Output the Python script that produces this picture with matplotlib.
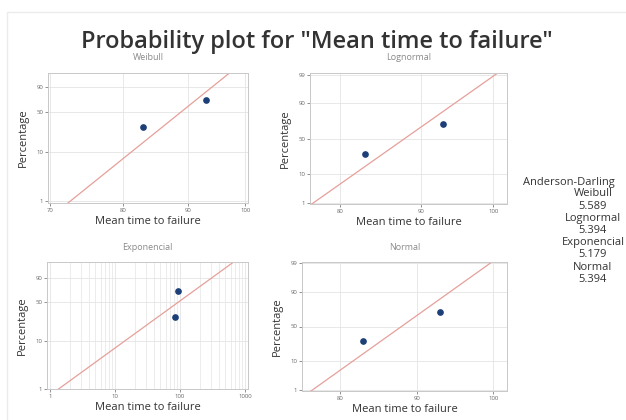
import numpy as np
import matplotlib
matplotlib.use("Agg")
import matplotlib.pyplot as plt
from matplotlib.ticker import FixedLocator, NullLocator, FixedFormatter, NullFormatter
from matplotlib.patches import Rectangle
from statistics import NormalDist

plt.rcParams['font.family'] = ['Open Sans', 'DejaVu Sans']

# ---------------- data ----------------
failure_times = [83.0, 93.0]
dist_names = ["Weibull", "Lognormal", "Exponencial", "Normal"]
ad_values = ["5.589", "5.394", "5.179", "5.394"]
title_text = 'Probability plot for "Mean time to failure"'
x_label = "Mean time to failure"
y_label = "Percentage"
weib_xticks = [70, 80, 90, 100]
logn_xticks = [80, 90, 100]
expo_xticks = [1, 10, 100, 1000]
norm_xticks = [80, 90, 100]
weib_yticks = [1, 10, 50, 90]
logn_yticks = [1, 10, 50, 90, 99]
expo_yticks = [1, 10, 50, 90]
norm_yticks = [1, 10, 50, 90, 99]

x = np.array(failure_times)
n = len(x)
ranks = np.arange(1, n + 1)
pct = 100 * (ranks - 0.3) / (n + 0.4)   # median ranks
xs = np.sort(x)

ND = NormalDist()
_inv = np.vectorize(lambda p: ND.inv_cdf(p), otypes=[float])
_cdf = np.vectorize(lambda z: ND.cdf(z), otypes=[float])


def norm_f(p):
    p = np.clip(np.asarray(p, float) / 100.0, 1e-9, 1 - 1e-9)
    return _inv(p)


def norm_i(z):
    return 100.0 * _cdf(np.asarray(z, float))


def weib_f(p):
    p = np.clip(np.asarray(p, float) / 100.0, 1e-9, 1 - 1e-9)
    return np.log(-np.log(1 - p))


def weib_i(y):
    return 100.0 * (1 - np.exp(-np.exp(np.asarray(y, float))))


# ---- fits ----
mu = x.mean()
sd = x.std()
lmu = np.log(x).mean()
lsd = np.log(x).std()
lx = np.log(x)
# exponential: least squares on the probability scale (unit slope)
theta = np.exp(np.mean(np.log(xs) - weib_f(pct)))


def g(k):
    w = x ** k
    return 1.0 / k + lx.mean() - np.sum(w * lx) / np.sum(w)


lo, hi = 0.5, 200.0
for _ in range(200):
    mid = 0.5 * (lo + hi)
    if g(mid) > 0:
        lo = mid
    else:
        hi = mid
kshape = 0.5 * (lo + hi)
lam = np.mean(x ** kshape) ** (1.0 / kshape)

p_line = np.array([0.3, 99.7])
zl = np.array([ND.inv_cdf(v / 100) for v in p_line])

fig = plt.figure(figsize=(6.26, 4.2), dpi=100)
fig.patch.set_facecolor("white")
fig.add_artist(Rectangle((7 / 626, -0.01), 1.0, 1 - 12 / 420 + 0.01,
                         transform=fig.transFigure, fill=False,
                         edgecolor="#ebebeb", lw=1.0))

W, H = 626, 420


def make_ax(l, r, t, b):
    return fig.add_axes([l / W, 1 - b / H, (r - l) / W, (b - t) / H])


axes_px = {
    "Weibull": (48, 248, 73, 203),
    "Lognormal": (310, 507, 73, 204),
    "Exponencial": (47, 248, 262, 389),
    "Normal": (302, 507, 262, 391),
}

line_col = "#e6a09a"
pt_col = "#1c3f78"
grid_col = "#e4e4e4"
tick_col = "#666666"


def style(ax, name, xticks, yticks, xminor=False):
    ax.set_xticks(xticks)
    ax.set_xticklabels([str(v) for v in xticks])
    if not xminor:
        ax.xaxis.set_minor_locator(NullLocator())
    ax.xaxis.set_minor_formatter(NullFormatter())
    ax.yaxis.set_major_locator(FixedLocator(yticks))
    ax.yaxis.set_major_formatter(FixedFormatter([str(v) for v in yticks]))
    ax.yaxis.set_minor_locator(NullLocator())
    ax.tick_params(axis="both", which="major", labelsize=4.3, colors=tick_col,
                   length=2, width=0.5, pad=1.5)
    ax.tick_params(axis="both", which="minor", length=0)
    ax.grid(True, which="major", color=grid_col, lw=0.6)
    if xminor:
        ax.grid(True, which="minor", axis="x", color=grid_col, lw=0.5)
    ax.set_axisbelow(True)
    for s in ax.spines.values():
        s.set_color("#c8c8c8")
        s.set_linewidth(0.7)
    ax.set_title(name, fontsize=6.5, color="#8a8a8a", pad=9)
    ax.set_xlabel(x_label, fontsize=8, color="#333333", labelpad=2.5)
    ax.set_ylabel(y_label, fontsize=8, color="#333333", labelpad=5)


# Weibull
ax = make_ax(*axes_px["Weibull"])
ax.set_xscale("log")
ax.set_yscale("function", functions=(weib_f, weib_i))
wl = lam * (-np.log(1 - p_line / 100)) ** (1 / kshape)
ax.plot(wl, p_line, color=line_col, lw=0.9)
ax.plot(xs, pct, "o", color=pt_col, ms=3.8)
ax.set_xlim(69.7, 100.5)
ax.set_ylim(0.9, 99.0)
style(ax, "Weibull", weib_xticks, weib_yticks)

# Lognormal
ax = make_ax(*axes_px["Lognormal"])
ax.set_xscale("log")
ax.set_yscale("function", functions=(norm_f, norm_i))
ll = np.exp(lmu + lsd * zl)
ax.plot(ll, p_line, color=line_col, lw=0.9)
ax.plot(xs, pct, "o", color=pt_col, ms=3.8)
ax.set_xlim(76.6, 102.0)
ax.set_ylim(0.9, 99.15)
style(ax, "Lognormal", logn_xticks, logn_yticks)

# Exponential
ax = make_ax(*axes_px["Exponencial"])
ax.set_xscale("log")
ax.set_yscale("function", functions=(weib_f, weib_i))
p_e = np.array([0.3, 99.9])
el = theta * (-np.log(1 - p_e / 100))
ax.plot(el, p_e, color=line_col, lw=0.9)
ax.plot(xs, pct, "o", color=pt_col, ms=3.8)
ax.set_xlim(0.9, 1112)
ax.set_ylim(1.0, 99.3)
style(ax, "Exponencial", expo_xticks, expo_yticks, xminor=True)

# Normal
ax = make_ax(*axes_px["Normal"])
ax.set_yscale("function", functions=(norm_f, norm_i))
nl = mu + sd * zl
ax.plot(nl, p_line, color=line_col, lw=0.9)
ax.plot(xs, pct, "o", color=pt_col, ms=3.8)
ax.set_xlim(75.0, 101.8)
ax.set_ylim(0.9, 99.1)
style(ax, "Normal", norm_xticks, norm_yticks)

# Title
fig.text(317 / W, 1 - 42 / H, title_text, ha="center", va="center",
         fontsize=17, fontweight="semibold", color="#333333")

# Anderson-Darling panel
fig.text(523 / W, 1 - 182 / H, "Anderson-Darling", ha="left", va="center",
         fontsize=8, color="#333333")
yy = 194
for nm, v in zip(dist_names, ad_values):
    fig.text(593 / W, 1 - yy / H, nm, ha="center", va="center",
             fontsize=8, color="#333333")
    yy += 12.2
    fig.text(593 / W, 1 - yy / H, v, ha="center", va="center",
             fontsize=8, color="#333333")
    yy += 12.2

fig.savefig("out.png", dpi=100, facecolor="white")
